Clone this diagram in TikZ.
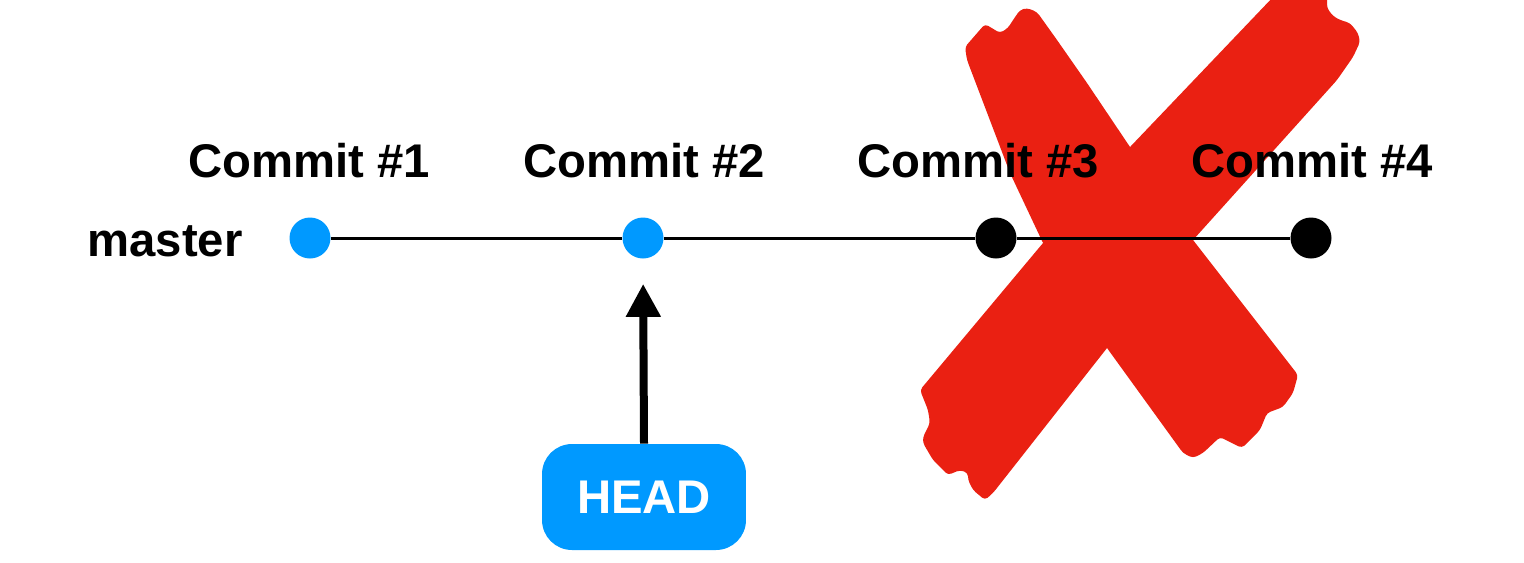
\documentclass[tikz,border=0pt]{standalone}
\usepackage{fontspec}
\setmainfont{Liberation Sans}
\usepackage{tikz}
\usetikzlibrary{arrows.meta,positioning}
\definecolor{gitblue}{RGB}{0,153,255}
\definecolor{crossred}{RGB}{234,32,18}

\begin{document}
\begin{tikzpicture}[x=0.02cm, y=-0.02cm,
    every node/.style={font=\fontsize{26.9}{32}\selectfont\bfseries},
    commitdot/.style={circle, minimum size=0.82cm, inner sep=0pt},
    commitlabel/.style={anchor=base, inner sep=0pt}]
    \useasboundingbox (0,0) rectangle (1524,562);

    % Red cross (drawn first, sits behind everything)
    \fill[crossred, rounded corners=2pt] (965,47) -- (985,24) -- (1000,33) -- (1008,28) -- (1013,20)
        -- (1020,10) -- (1027,8) -- (1037,12) -- (1057,40) -- (1087,83) -- (1130,147)
        -- (1193,240) -- (1298,375) -- (1293,393) -- (1283,407) -- (1267,413) -- (1260,430)
        -- (1242,448) -- (1220,437) -- (1203,453) -- (1193,458) -- (1183,453) -- (1107,348)
        -- (1043,243) -- (1010,173) -- (967,60) -- cycle;
    \fill[crossred, rounded corners=2pt] (1275,-5) -- (1327,-5) -- (1327,8) -- (1333,16) -- (1340,20)
        -- (1350,23) -- (1358,33) -- (1360,42) -- (1353,57) -- (1337,80) -- (1193,240)
        -- (1107,348) -- (993,493) -- (985,500) -- (973,490) -- (968,480) -- (968,473)
        -- (960,470) -- (948,475) -- (933,460) -- (923,443) -- (923,437) -- (930,423)
        -- (928,410) -- (920,390) -- (1043,243) -- (1130,147) -- cycle;

    % Commits on master
    \node[commitdot, fill=gitblue] (c1) at (310,238) {};
    \node[commitdot, fill=gitblue] (c2) at (643,238) {};
    \node[commitdot, fill=black] (c3) at (996,238) {};
    \node[commitdot, fill=black] (c4) at (1311,238) {};
    \draw[line width=0.06cm] (c1) -- (c2) -- (c3) -- (c4);

    % Labels
    \node[anchor=base east, inner sep=0pt] (master) at (243,256) {master};
    \node[commitlabel] (l1) at (309,177) {Commit \#1};
    \node[commitlabel] (l2) at (644,177) {Commit \#2};
    \node[commitlabel] (l3) at (978,177) {Commit \#3};
    \node[commitlabel] (l4) at (1312,177) {Commit \#4};

    % HEAD pointer
    \node[fill=gitblue, text=white, rounded corners=0.6cm, minimum width=4.08cm,
          minimum height=2.12cm, inner sep=0pt] (head) at (644,497) {HEAD};
    \draw[line width=0.16cm, -{Triangle[width=0.66cm, length=0.66cm]}, shorten >=0.5cm]
        (head.north) -- (c2.south);
\end{tikzpicture}
\end{document}
